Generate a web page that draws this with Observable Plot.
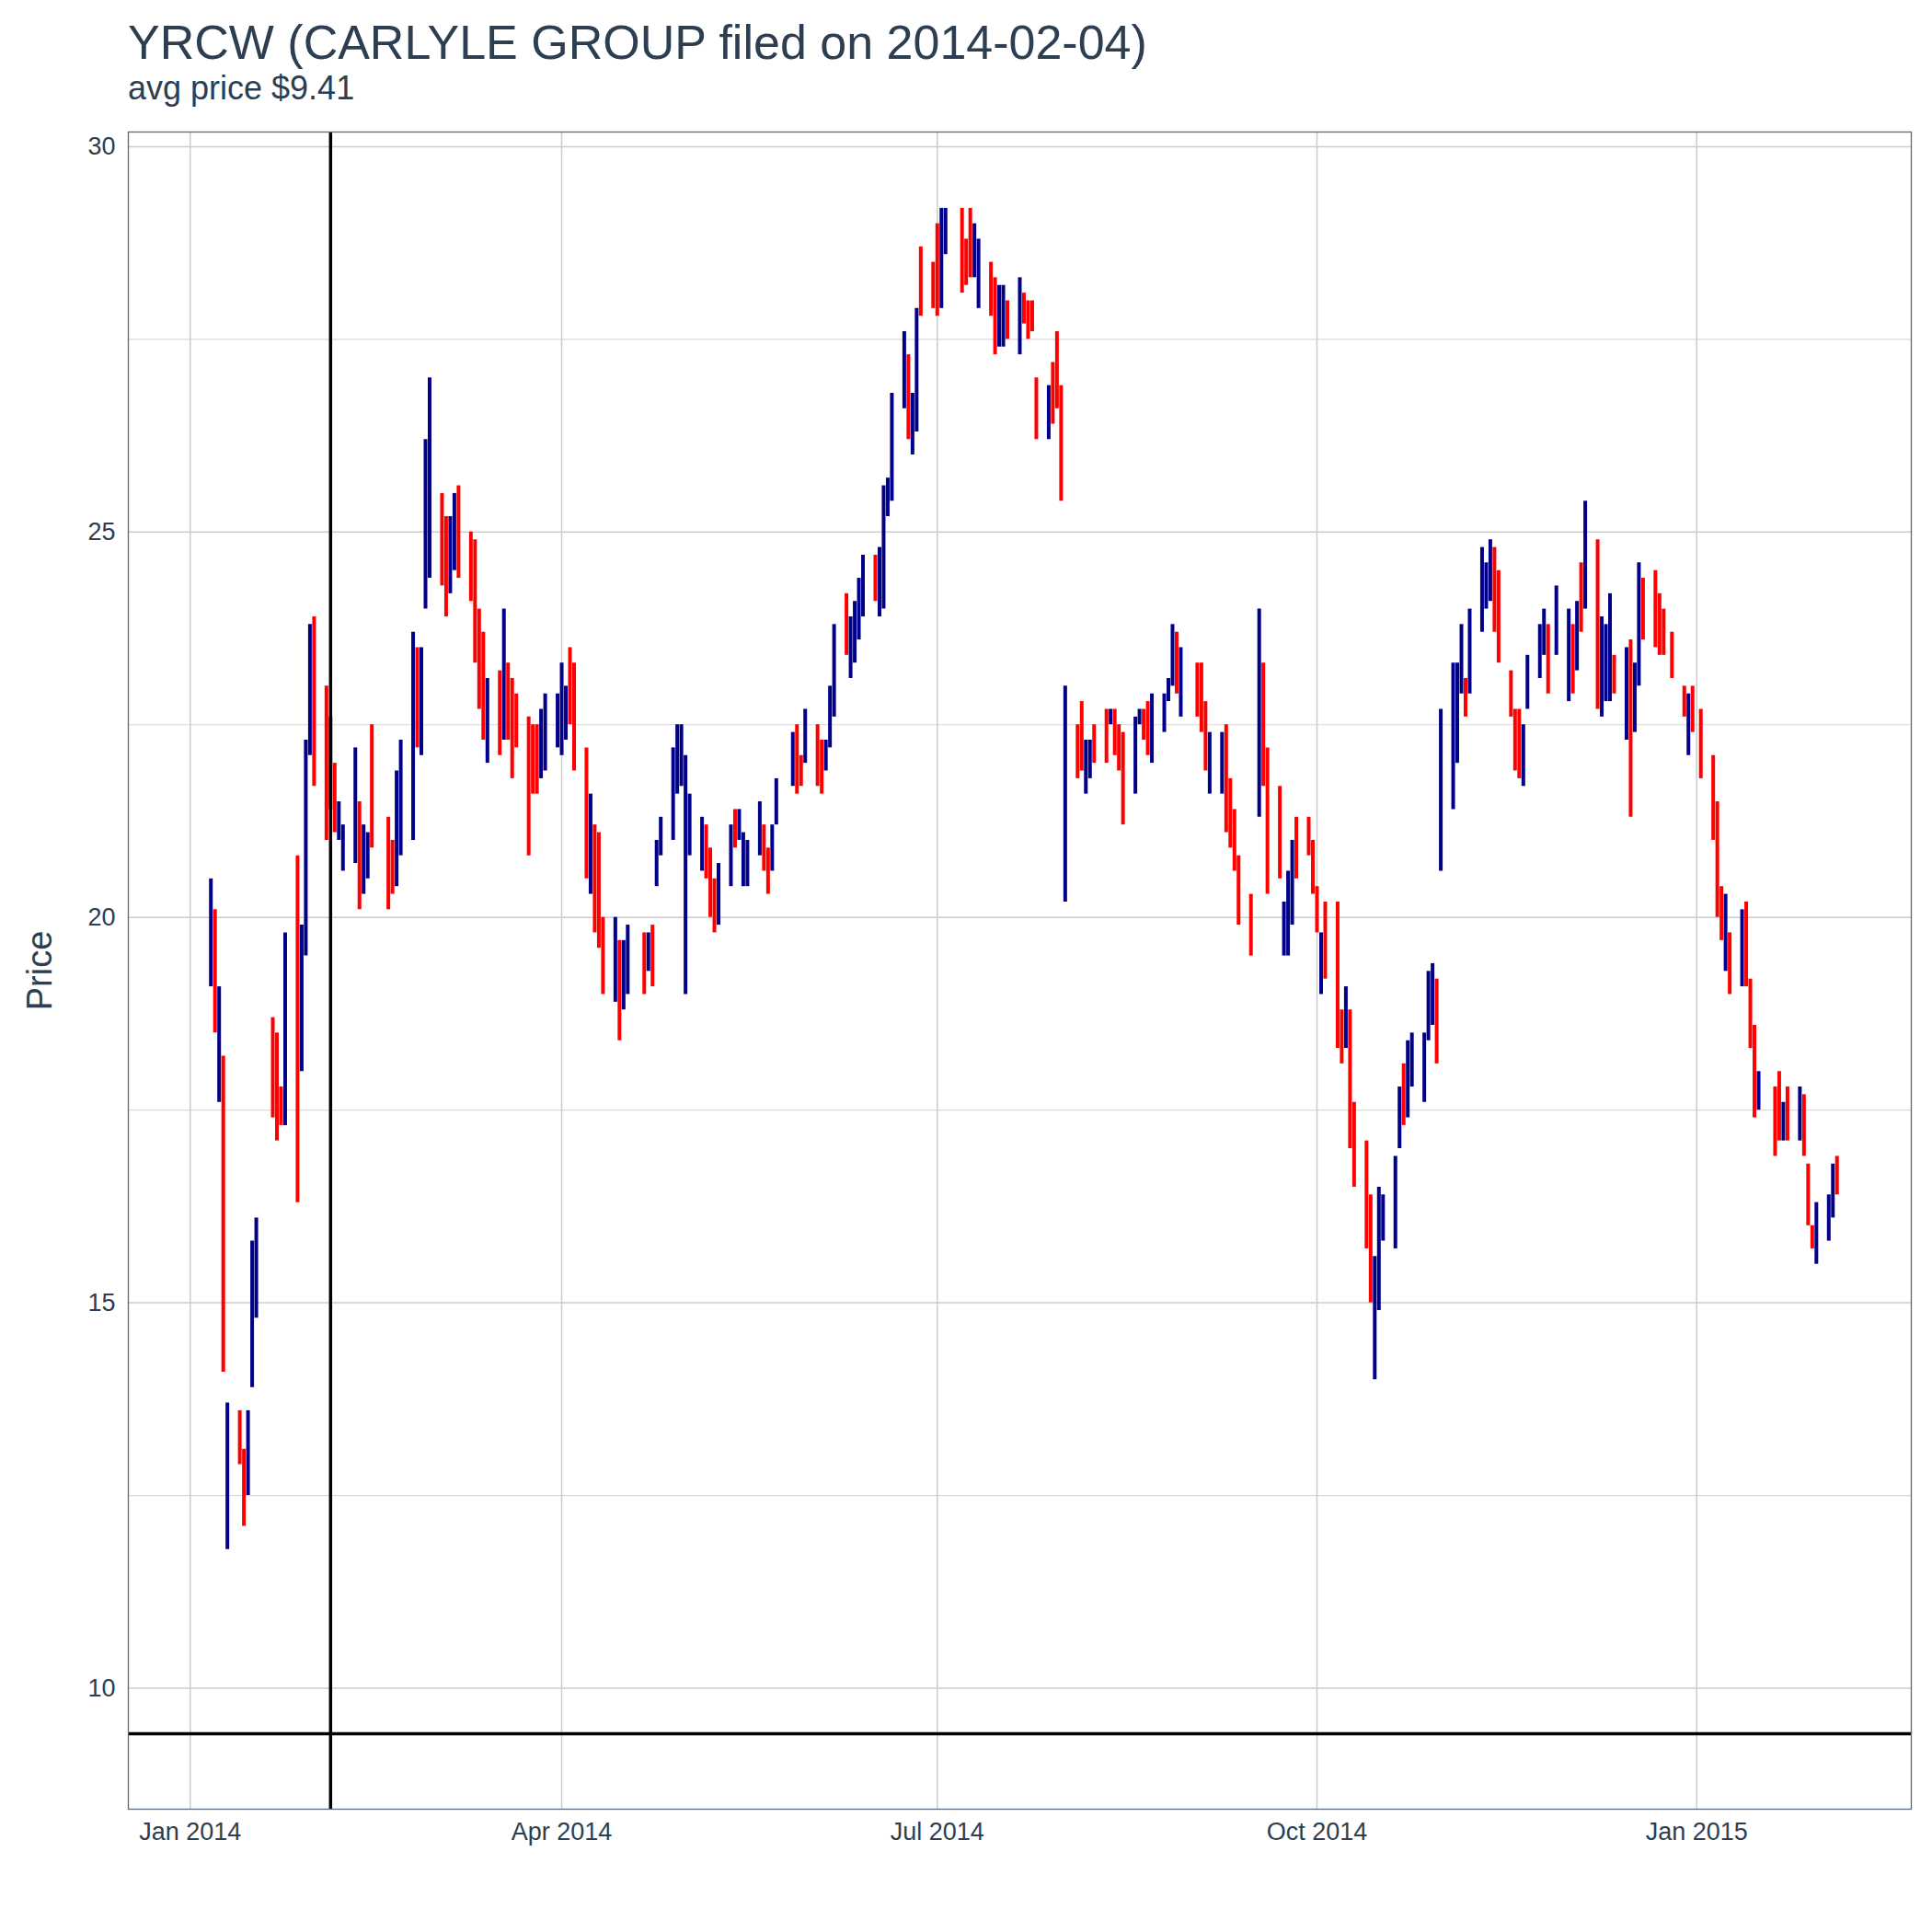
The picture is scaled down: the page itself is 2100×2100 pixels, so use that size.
<!DOCTYPE html>
<html>
<head>
<meta charset="utf-8">
<script src="https://cdn.jsdelivr.net/npm/d3@7"></script>
<script src="https://cdn.jsdelivr.net/npm/@observablehq/plot@0.6"></script>
<style>
  body { margin: 0; background: #fff; font-family: "Liberation Sans", Arial, sans-serif; }
  #head { height: 140px; padding-left: 139px; box-sizing: border-box; color: #2c3e50; }
  #title { font-size: 52px; padding-top: 18px; line-height: 56px; }
  #sub { font-size: 36px; line-height: 44px; color: #2c3e50; }
</style>
</head>
<body>
<div id="head">
  <div id="title">YRCW (CARLYLE GROUP filed on 2014-02-04)</div>
  <div id="sub">avg price $9.41</div>
</div>
<div id="chart"></div>
<script>
const dates = [
  "2014-01-06","2014-01-07","2014-01-08","2014-01-09","2014-01-10",
  "2014-01-13","2014-01-14","2014-01-15","2014-01-16","2014-01-17",
  "2014-01-21","2014-01-22","2014-01-23","2014-01-24",
  "2014-01-27","2014-01-28","2014-01-29","2014-01-30","2014-01-31",
  "2014-02-03","2014-02-04","2014-02-05","2014-02-06","2014-02-07",
  "2014-02-10","2014-02-11","2014-02-12","2014-02-13","2014-02-14",
  "2014-02-18","2014-02-19","2014-02-20","2014-02-21",
  "2014-02-24","2014-02-25","2014-02-26","2014-02-27","2014-02-28",
  "2014-03-03","2014-03-04","2014-03-05","2014-03-06","2014-03-07",
  "2014-03-10","2014-03-11","2014-03-12","2014-03-13","2014-03-14",
  "2014-03-17","2014-03-18","2014-03-19","2014-03-20","2014-03-21",
  "2014-03-24","2014-03-25","2014-03-26","2014-03-27","2014-03-28",
  "2014-03-31","2014-04-01","2014-04-02","2014-04-03","2014-04-04",
  "2014-04-07","2014-04-08","2014-04-09","2014-04-10","2014-04-11",
  "2014-04-14","2014-04-15","2014-04-16","2014-04-17",
  "2014-04-21","2014-04-22","2014-04-23","2014-04-24","2014-04-25",
  "2014-04-28","2014-04-29","2014-04-30","2014-05-01","2014-05-02",
  "2014-05-05","2014-05-06","2014-05-07","2014-05-08","2014-05-09",
  "2014-05-12","2014-05-13","2014-05-14","2014-05-15","2014-05-16",
  "2014-05-19","2014-05-20","2014-05-21","2014-05-22","2014-05-23",
  "2014-05-27","2014-05-28","2014-05-29","2014-05-30",
  "2014-06-02","2014-06-03","2014-06-04","2014-06-05","2014-06-06",
  "2014-06-09","2014-06-10","2014-06-11","2014-06-12","2014-06-13",
  "2014-06-16","2014-06-17","2014-06-18","2014-06-19","2014-06-20",
  "2014-06-23","2014-06-24","2014-06-25","2014-06-26","2014-06-27",
  "2014-06-30","2014-07-01","2014-07-02","2014-07-03",
  "2014-07-07","2014-07-08","2014-07-09","2014-07-10","2014-07-11",
  "2014-07-14","2014-07-15","2014-07-16","2014-07-17","2014-07-18",
  "2014-07-21","2014-07-22","2014-07-23","2014-07-24","2014-07-25",
  "2014-07-28","2014-07-29","2014-07-30","2014-07-31","2014-08-01",
  "2014-08-04","2014-08-05","2014-08-06","2014-08-07","2014-08-08",
  "2014-08-11","2014-08-12","2014-08-13","2014-08-14","2014-08-15",
  "2014-08-18","2014-08-19","2014-08-20","2014-08-21","2014-08-22",
  "2014-08-25","2014-08-26","2014-08-27","2014-08-28","2014-08-29",
  "2014-09-02","2014-09-03","2014-09-04","2014-09-05",
  "2014-09-08","2014-09-09","2014-09-10","2014-09-11","2014-09-12",
  "2014-09-15","2014-09-17","2014-09-18","2014-09-19",
  "2014-09-22","2014-09-23","2014-09-24","2014-09-25","2014-09-26",
  "2014-09-29","2014-09-30","2014-10-01","2014-10-02","2014-10-03",
  "2014-10-06","2014-10-07","2014-10-08","2014-10-09","2014-10-10",
  "2014-10-13","2014-10-14","2014-10-15","2014-10-16","2014-10-17",
  "2014-10-20","2014-10-21","2014-10-22","2014-10-23","2014-10-24",
  "2014-10-27","2014-10-28","2014-10-29","2014-10-30","2014-10-31",
  "2014-11-03","2014-11-04","2014-11-05","2014-11-06","2014-11-07",
  "2014-11-10","2014-11-11","2014-11-12","2014-11-13","2014-11-14",
  "2014-11-17","2014-11-18","2014-11-19","2014-11-20","2014-11-21",
  "2014-11-24","2014-11-25","2014-11-26","2014-11-28",
  "2014-12-01","2014-12-02","2014-12-03","2014-12-04","2014-12-05",
  "2014-12-08","2014-12-09","2014-12-10","2014-12-11","2014-12-12",
  "2014-12-15","2014-12-16","2014-12-17","2014-12-18","2014-12-19",
  "2014-12-22","2014-12-23","2014-12-24","2014-12-26",
  "2014-12-29","2014-12-30","2014-12-31","2015-01-02",
  "2015-01-05","2015-01-06","2015-01-07","2015-01-08","2015-01-09",
  "2015-01-12","2015-01-13","2015-01-14","2015-01-15","2015-01-16",
  "2015-01-20","2015-01-21","2015-01-22","2015-01-23",
  "2015-01-26","2015-01-27","2015-01-28","2015-01-29","2015-01-30",
  "2015-02-02","2015-02-03","2015-02-04"
]

const lows = [
  19.1,18.5,17.6,14.1,11.8,
  12.9,12.1,12.5,13.9,14.8,
  17.4,17.1,17.3,17.3,
  16.3,18.0,19.5,22.1,21.7,
  21.0,21.4,21.1,21.0,20.6,
  20.7,20.1,20.3,20.5,20.9,
  20.1,20.3,20.4,20.8,
  21.0,22.2,22.1,24.0,24.4,
  24.3,23.9,24.2,24.5,24.4,
  24.1,23.3,22.7,22.3,22.0,
  22.1,22.3,22.3,21.8,22.2,
  20.8,21.6,21.6,21.8,21.9,
  22.2,22.1,22.3,22.5,21.9,
  20.5,20.3,19.8,19.6,19.0,
  18.9,18.4,18.8,19.0,
  19.0,19.3,19.1,20.4,20.8,
  21.0,21.6,21.7,19.0,20.8,
  20.6,20.5,20.0,19.8,19.9,
  20.4,20.9,21.0,20.4,20.4,
  20.8,20.6,20.3,20.6,21.2,
  21.7,21.6,21.7,22.0,
  21.7,21.6,21.9,22.2,22.6,
  23.4,23.1,23.3,23.6,23.9,
  24.1,23.9,24.0,25.2,25.4,
  26.6,26.2,26.0,26.3,27.8,
  27.9,27.8,27.9,28.6,
  28.1,28.2,28.3,28.3,27.9,
  27.8,27.3,27.4,27.4,27.5,
  27.3,27.7,27.5,27.6,26.2,
  26.2,26.4,26.6,25.4,20.2,
  21.8,21.9,21.6,21.8,22.0,
  22.0,22.5,22.1,21.9,21.2,
  21.6,22.5,22.3,22.1,22.0,
  22.4,22.8,23.0,22.9,22.6,
  22.6,22.4,21.9,21.6,
  21.6,21.1,20.9,20.6,19.9,
  19.5,21.3,21.7,20.3,
  20.5,19.5,19.5,19.9,20.5,
  20.8,20.3,19.8,19.0,19.2,
  18.3,18.1,18.3,17.0,16.5,
  15.7,15.0,14.0,14.9,15.8,
  15.7,17.0,17.3,17.4,17.8,
  17.6,18.4,18.6,18.1,20.6,
  21.4,22.0,22.9,22.6,22.9,
  23.7,24.0,24.1,23.7,23.3,
  22.6,21.9,21.8,21.7,22.7,
  23.1,23.4,22.9,23.4,
  22.8,22.9,23.2,23.7,24.0,
  22.7,22.6,22.8,22.8,22.9,
  22.3,21.3,22.4,23.0,23.6,
  23.5,23.4,23.4,23.1,
  22.6,22.1,22.4,21.8,
  21.0,20.0,19.7,19.3,19.0,
  19.1,19.1,18.3,17.4,17.5,
  16.9,17.1,17.1,17.1,
  17.1,16.9,16.0,15.7,15.5,
  15.8,16.1,16.4
]

const highs = [
  20.5,20.1,19.1,18.2,13.7,
  13.6,13.1,13.6,15.8,16.1,
  18.7,18.5,17.8,19.8,
  20.8,19.9,22.3,23.8,23.9,
  23.0,22.6,22.0,21.5,21.2,
  22.2,21.5,21.2,21.1,22.5,
  21.3,21.0,21.9,22.3,
  23.7,23.5,23.5,26.2,27.0,
  25.5,25.2,25.2,25.5,25.6,
  25.0,24.9,24.0,23.7,23.1,
  23.2,24.0,23.3,23.1,22.9,
  22.6,22.5,22.5,22.7,22.9,
  22.9,23.3,23.0,23.5,23.3,
  22.2,21.6,21.2,21.1,20.0,
  20.0,19.7,19.7,19.9,
  19.8,19.8,19.9,21.0,21.3,
  22.2,22.5,22.5,22.1,21.6,
  21.3,21.2,20.9,20.5,20.7,
  21.2,21.4,21.4,21.1,21.0,
  21.5,21.2,20.9,21.2,21.8,
  22.4,22.5,22.1,22.7,
  22.5,22.3,22.3,23.0,23.8,
  24.2,23.9,24.1,24.4,24.7,
  24.7,24.8,25.6,25.7,26.8,
  27.6,27.3,26.8,27.9,28.7,
  28.5,29.0,29.2,29.2,
  29.2,28.8,29.2,29.0,28.8,
  28.5,28.3,28.2,28.2,28.0,
  28.3,28.1,28.0,28.0,27.0,
  26.9,27.2,27.6,26.9,23.0,
  22.5,22.8,22.3,22.3,22.5,
  22.7,22.7,22.7,22.5,22.4,
  22.6,22.7,22.7,22.8,22.9,
  22.9,23.1,23.8,23.7,23.5,
  23.3,23.3,22.8,22.4,
  22.4,22.5,21.8,21.4,20.8,
  20.3,24.0,23.3,22.2,
  21.7,20.2,20.6,21.0,21.3,
  21.3,21.0,20.4,19.8,20.2,
  20.2,18.8,19.1,18.8,17.6,
  17.1,16.4,15.6,16.5,16.4,
  16.9,17.8,18.1,18.4,18.5,
  18.5,19.3,19.4,19.2,22.7,
  23.3,23.3,23.8,23.1,24.0,
  24.8,24.6,24.9,24.8,24.5,
  23.2,22.7,22.7,22.5,23.4,
  23.8,24.0,23.8,24.3,
  24.0,23.8,24.1,24.6,25.4,
  24.9,23.9,23.8,24.2,23.4,
  23.5,23.6,23.3,24.6,24.4,
  24.5,24.2,24.0,23.7,
  23.0,22.9,23.0,22.7,
  22.1,21.5,20.4,20.3,19.8,
  20.1,20.2,19.2,18.6,18.0,
  17.8,18.0,17.6,17.8,
  17.8,17.7,16.8,16.0,16.3,
  16.4,16.8,16.9
]

// 1 = close above open (blue), 0 = down day (red)
const upDay = [
  1,0,1,0,1, 0,0,1,1,1, 0,0,0,1, 0,1,1,1,0, 0,0,0,1,1,
  1,0,1,1,0, 0,0,1,1, 1,0,1,1,1, 0,0,1,1,0, 0,0,0,0,1,
  0,1,0,0,0, 0,0,0,1,1, 1,1,1,0,0, 0,1,0,0,0, 1,0,1,1,
  0,1,0,1,1, 1,1,1,1,1, 1,0,0,0,1, 1,0,1,1,1, 1,0,0,1,1,
  1,0,0,1, 0,0,1,1,1, 0,1,1,1,1, 0,1,1,1,1, 1,0,1,1,0,
  0,0,1,1, 0,0,0,1,1, 0,0,1,1,0, 1,0,0,0,0, 1,0,0,0,1,
  0,0,1,1,0, 0,1,0,0,0, 1,1,0,0,1, 1,1,1,0,1, 0,0,0,1,
  1,0,0,0,0, 0,1,0,0, 0,1,1,1,0, 0,0,0,1,0, 0,0,1,0,0,
  0,0,1,1,1, 1,1,0,1,1, 1,1,1,0,1, 1,1,1,0,1, 1,1,1,0,0,
  0,0,0,1,1, 1,1,0,1, 1,0,1,0,1, 0,1,1,1,0, 1,0,1,1,0,
  0,0,0,0, 0,1,0,0, 0,0,0,1,0, 1,0,0,0,1, 0,0,1,0,
  1,0,0,0,1, 1,1,0
]

const xTicks = ["2014-01-01","2014-04-01","2014-07-01","2014-10-01","2015-01-01"]
const filingDate = "2014-02-04"
const avgPrice = 9.41

const bars = dates.map((d, i) => ({
  date: new Date(d),
  low: lows[i],
  high: highs[i],
  dir: upDay[i] ? "up" : "down"
}))

const chart = Plot.plot({
  width: 2100,
  height: 1906,
  marginTop: 3,
  marginLeft: 139,
  marginRight: 23,
  marginBottom: 80,
  style: {fontFamily: "Liberation Sans, Arial, sans-serif", fontSize: "27px", color: "#2c3e50", background: "#fff"},
  x: {
    type: "utc",
    domain: [new Date("2013-12-17"), new Date("2015-02-22")],
    ticks: xTicks.map(d => new Date(d)),
    tickFormat: d3.utcFormat("%b %Y"),
    tickSize: 0,
    tickPadding: 14,
    label: null
  },
  y: {
    domain: [8.43, 30.19],
    ticks: [10, 15, 20, 25, 30],
    tickSize: 0,
    tickPadding: 14,
    label: "Price",
    labelAnchor: "center",
    labelArrow: "none",
    labelOffset: 110
  },
  color: {domain: ["up", "down"], range: ["#00008B", "#FF0000"]},
  marks: [
    Plot.gridY([12.5, 17.5, 22.5, 27.5], {stroke: "#d9d9d9", strokeOpacity: 1, strokeWidth: 1.2}),
    Plot.gridY([10, 15, 20, 25, 30], {stroke: "#cccccc", strokeOpacity: 1, strokeWidth: 1.5}),
    Plot.gridX(xTicks.map(d => new Date(d)), {stroke: "#cccccc", strokeOpacity: 1, strokeWidth: 1.5}),
    Plot.ruleX(bars, {x: "date", y1: "low", y2: "high", stroke: "dir", strokeWidth: 4}),
    Plot.ruleY([avgPrice], {stroke: "#000", strokeWidth: 3.5}),
    Plot.ruleX([new Date(filingDate)], {stroke: "#000", strokeWidth: 3.5}),
    Plot.frame({stroke: "#5a6a7a", strokeWidth: 1.3})
  ]
})

d3.select(chart).selectAll("[aria-label='y-axis label'] text").style("font-size", "38px")
d3.select("#chart").append(() => chart)
</script>
</body>
</html>
